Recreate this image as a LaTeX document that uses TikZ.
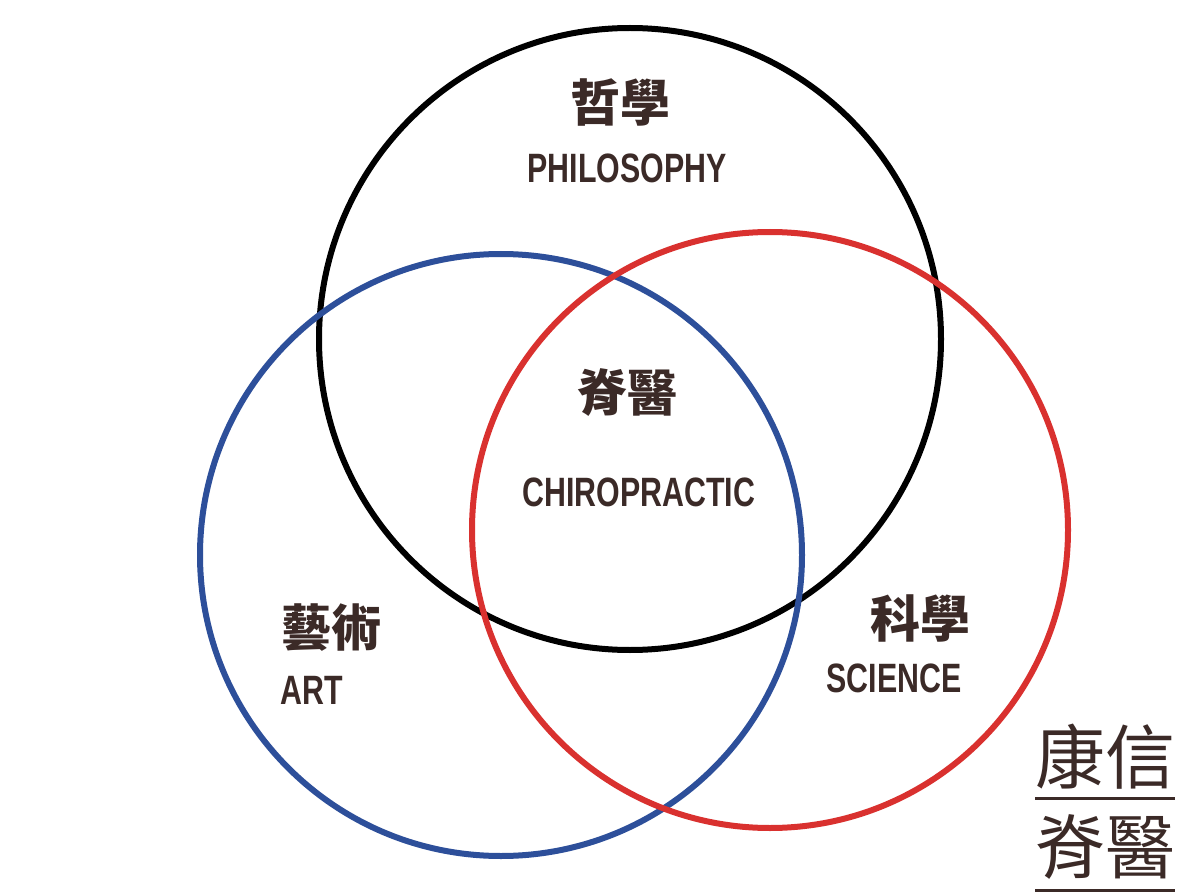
\documentclass[tikz,border=0pt]{standalone}
\usepackage{fontspec}
\usepackage{graphicx}
\setmainfont{Liberation Sans}
\newfontfamily\cjk{Noto Sans CJK TC}
\definecolor{txt}{HTML}{3B2A27}
\definecolor{cblue}{HTML}{2D4F9A}
\definecolor{cred}{HTML}{D9312F}
\newcommand{\cond}[1]{\scalebox{0.74}[1]{\bfseries #1}}
\begin{document}
\begin{tikzpicture}[x=1pt,y=-1pt,
  circ/.style={line width=6pt},
  en/.style={text=txt,font=\fontsize{41}{41}\selectfont,inner sep=0pt},
  zh/.style={text=txt,font=\cjk\bfseries\fontsize{50}{50}\selectfont,inner sep=0pt},
  logo/.style={text=txt,font=\cjk\fontsize{70}{70}\selectfont,inner sep=0pt}]
\useasboundingbox (0,0) rectangle (1195,896);
\draw[circ,black] (630,339) circle (311);
\draw[circ,cblue] (501,555) circle (301);
\draw[circ,cred] (770,530) circle (298);
\node[zh] (phz) at (620,103) {哲學};
\node[en] (phe) at (627,168) {\cond{PHILOSOPHY}};
\node[zh] (chz) at (627,393) {脊醫};
\node[en] (che) at (639,492) {\cond{CHIROPRACTIC}};
\node[zh] (arz) at (331,628) {藝術};
\node[en] (are) at (312,690) {\cond{ART}};
\node[zh] (scz) at (920,618) {科學};
\node[en] (sce) at (894,678) {\cond{SCIENCE}};
\node[logo] (l1) at (1105,757) {康信};
\node[logo] (l2) at (1105,847) {脊醫};
\draw[txt,line width=3pt] (1035,798) coordinate (a1) -- (1175,798) coordinate (a2);
\draw[txt,line width=3pt] (1035,890) coordinate (b1) -- (1175,890) coordinate (b2);
\end{tikzpicture}
\end{document}
